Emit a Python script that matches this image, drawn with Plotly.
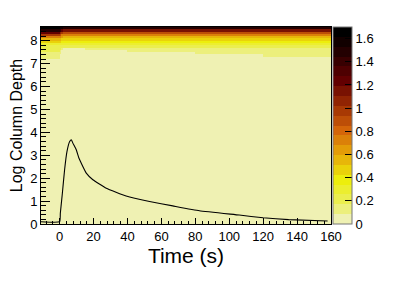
import plotly.graph_objects as go

# ---------------- data ----------------
# line (graph overlaid on the 2D histogram)
LINE_T = [-11, 0, 0.4, 1.6, 2.9, 4.3, 5.9, 6.9, 7.8, 9.8, 11.4, 12.7, 15.7, 19.6,
          27.5, 39.2, 53, 66.7, 82.4, 105.9, 120, 135, 158]
LINE_Y = [0.1, 0.1, 0.47, 1.34, 2.36, 3.16, 3.6, 3.68, 3.53, 3.24, 2.87, 2.66, 2.22, 1.93,
          1.56, 1.22, 0.98, 0.79, 0.58, 0.39, 0.27, 0.19, 0.13]

# 2D histogram: time-segment edges and log-column-depth row edges (0.1 wide)
X_EDGES = [-11, 0, 1, 2, 15, 40, 80, 120, 160]
N_ROWS = 86                      # rows of 0.1 from 0 to 8.6
BASE_VALUE = 0.05                # pale background level

# values of the top rows, from the top row (8.5-8.6) downwards, for each time segment
TOP_PRE   = [1.62, 1.5, 1.25, 0.95, 0.75, 0.55, 0.44, 0.32, 0.22, 0.19, 0.17, 0.16, 0.15, 0.13]
TOP_T0    = [1.6, 1.4, 1.1, 0.85, 0.68, 0.52, 0.43, 0.32, 0.22, 0.19, 0.16, 0.14]
TOP_T1    = [1.55, 1.25, 0.95, 0.75, 0.6, 0.49, 0.42, 0.31, 0.2, 0.14]
TOP_POST  = [1.45, 1.15, 0.86, 0.7, 0.57, 0.47, 0.41, 0.31, 0.2]
LIGHT_VALUE = 0.13               # light-yellow rows under the bright bands
# number of rows (from top) that are not pale in each post segment
POST_DEPTH = [9, 10, 11, 12, 13]  # segments 2-15, 15-40, 40-80, 80-120, 120-160

# ---------------- build the grid ----------------
def column(top, depth=None):
    vals = list(top)
    if depth is not None:
        vals += [LIGHT_VALUE] * (depth - len(vals))
    col = [BASE_VALUE] * N_ROWS
    for k, v in enumerate(vals):
        col[N_ROWS - 1 - k] = v
    return col

cols = [column(TOP_PRE), column(TOP_T0), column(TOP_T1)]
for d in POST_DEPTH:
    cols.append(column(TOP_POST, d))
Z = [[cols[c][r] for c in range(len(cols))] for r in range(N_ROWS)]
Y_EDGES = [round(0.1 * i, 2) for i in range(N_ROWS + 1)]

# ---------------- palette (inverted dark body radiator, 20 levels) ----------------
stops = [0, .125, .25, .375, .5, .625, .75, .875, 1]
R = [242, 234, 237, 230, 212, 156, 99, 45, 0]
G = [243, 238, 238, 168, 101, 45, 0, 0, 0]
B = [230, 95, 11, 8, 9, 3, 1, 1, 0]

def pal(f):
    for j in range(len(stops) - 1):
        if f <= stops[j + 1]:
            t = (f - stops[j]) / (stops[j + 1] - stops[j])
            return "rgb(%d,%d,%d)" % tuple(round(a[j] + t * (a[j + 1] - a[j])) for a in (R, G, B))
    return "rgb(0,0,0)"

NLEV = 20
cs = []
for i in range(NLEV):
    f = int((i + 0.99) * 255 / NLEV) / 254
    c = pal(min(f, 1))
    cs.append([i / NLEV, c])
    cs.append([(i + 1) / NLEV, c])

FONT = "Liberation Sans, Arial, Helvetica, sans-serif"

# the page body has an 8px default margin: compensate in the figure margins
L, T, RR, BB = 33, 19, 92, 65
PW = 415 - L - RR

fig = go.Figure()
fig.add_trace(go.Heatmap(
    x=X_EDGES, y=Y_EDGES, z=Z, colorscale=cs, zmin=0, zmax=1.7, zsmooth=False,
    colorbar=dict(x=2 / PW + 1, xanchor="left", xpad=0, y=0.5, yanchor="middle", ypad=0,
                  len=1, lenmode="fraction", thickness=19, thicknessmode="pixels",
                  outlinewidth=1, outlinecolor="#777",
                  tick0=0, dtick=0.2, ticks="inside", ticklen=7, tickcolor="black",
                  tickfont=dict(family=FONT, size=13, color="black")),
    hoverinfo="skip"))
fig.add_trace(go.Scatter(x=LINE_T, y=LINE_Y, mode="lines",
                         line=dict(color="black", width=1.1, shape="spline", smoothing=0.4),
                         showlegend=False))

fig.update_layout(
    width=415, height=281, margin=dict(l=L, r=RR, t=T, b=BB, autoexpand=False),
    paper_bgcolor="white", plot_bgcolor="white", showlegend=False,
    font=dict(family=FONT, color="black"),
    xaxis=dict(range=[-11, 160], tick0=0, dtick=20, ticks="inside", ticklen=6, tickcolor="black",
               showline=True, mirror=True, linecolor="black", linewidth=1, automargin=False,
               showgrid=False, zeroline=False, tickfont=dict(size=13),
               minor=dict(ticks="inside", ticklen=3, tick0=0, dtick=4, tickcolor="black"),
               title=dict(text="Time (s)", font=dict(size=21), standoff=4)),
    yaxis=dict(range=[0, 8.6], tick0=0, dtick=1, ticks="inside", ticklen=9, tickcolor="black",
               showline=True, mirror=True, linecolor="black", linewidth=1, automargin=False,
               showgrid=False, zeroline=False, tickfont=dict(size=13),
               minor=dict(ticks="inside", ticklen=4.5, tick0=0, dtick=0.2, tickcolor="black"),
               title=dict(text="Log Column Depth", font=dict(size=16), standoff=14)),
)

fig.write_html("out.html")
